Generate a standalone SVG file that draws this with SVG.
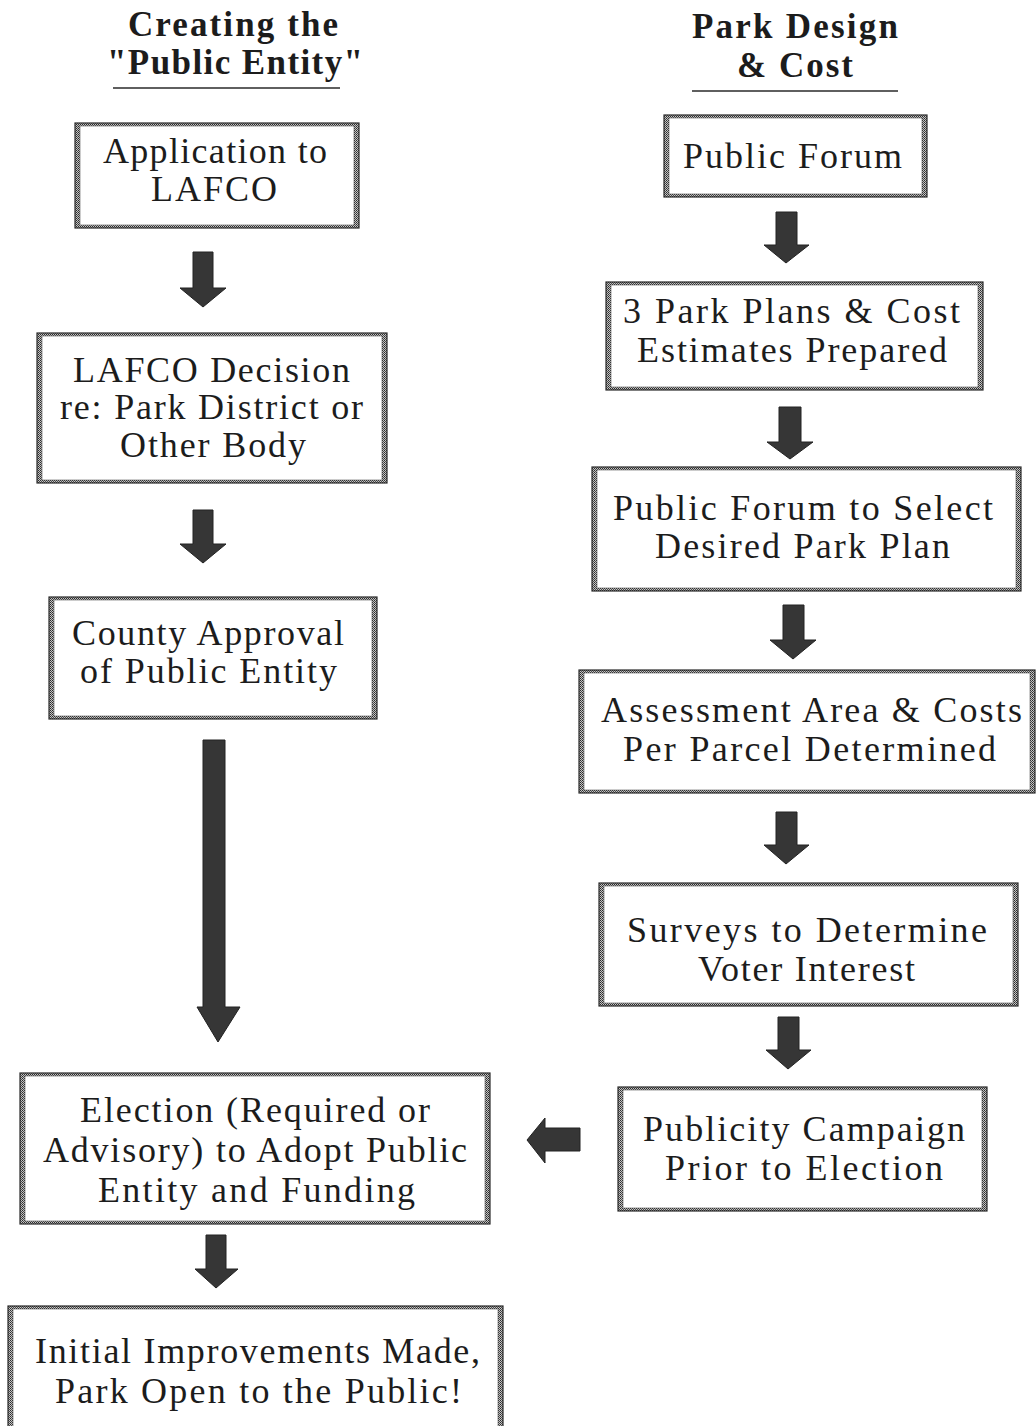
<svg xmlns="http://www.w3.org/2000/svg" width="1036" height="1426" viewBox="0 0 1036 1426">
<defs>
<pattern id="dither" width="2" height="2" patternUnits="userSpaceOnUse">
<rect width="2" height="2" fill="#c4c4c4"/>
<rect x="0" y="0" width="1" height="1" fill="#2a2a2a"/>
<rect x="1" y="1" width="1" height="1" fill="#4a4a4a"/>
</pattern>
<style>
.band{fill:url(#dither);stroke:#2a2a2a;stroke-width:1.2}
.inner{fill:#fff;stroke:#555;stroke-width:0.6}
.t{font-family:"Liberation Serif","Times New Roman",serif;font-size:36px;fill:#1c1c1c}
.h{font-family:"Liberation Serif","Times New Roman",serif;font-size:35px;font-weight:bold;fill:#1c1c1c}
.ul{stroke:#2a2a2a;stroke-width:1.5}
.arrow{fill:#363636;stroke:#222;stroke-width:1}
</style>
</defs>
<rect width="1036" height="1426" fill="#fff"/>

<g id="header-left">
<text class="h" x="128" y="36" textLength="210" lengthAdjust="spacing">Creating the</text>
<text class="h" x="107" y="74" textLength="256" lengthAdjust="spacing">"Public Entity"</text>
<line class="ul" x1="113" y1="88" x2="340" y2="88"/>
</g>
<g id="header-right">
<text class="h" x="692" y="38" textLength="206" lengthAdjust="spacing">Park Design</text>
<text class="h" x="737" y="77" textLength="116" lengthAdjust="spacing">&amp; Cost</text>
<line class="ul" x1="692" y1="91" x2="898" y2="91"/>
</g>

<g id="n-application">
<rect class="band" x="75" y="123" width="284" height="105"/>
<rect class="inner" x="80" y="126" width="274" height="99"/>
<text class="t" x="103" y="163" textLength="224" lengthAdjust="spacing">Application to</text>
<text class="t" x="151" y="201" textLength="126" lengthAdjust="spacing">LAFCO</text>
</g>
<g id="n-lafco-decision">
<rect class="band" x="37" y="333" width="350" height="150"/>
<rect class="inner" x="42" y="336" width="340" height="144"/>
<text class="t" x="73" y="382" textLength="277" lengthAdjust="spacing">LAFCO Decision</text>
<text class="t" x="60" y="419" textLength="303" lengthAdjust="spacing">re: Park District or</text>
<text class="t" x="120" y="457" textLength="186" lengthAdjust="spacing">Other Body</text>
</g>
<g id="n-county">
<rect class="band" x="49" y="597" width="328" height="122"/>
<rect class="inner" x="54" y="600" width="318" height="116"/>
<text class="t" x="72" y="645" textLength="272" lengthAdjust="spacing">County Approval</text>
<text class="t" x="80" y="683" textLength="257" lengthAdjust="spacing">of Public Entity</text>
</g>
<g id="n-election">
<rect class="band" x="20" y="1073" width="470" height="151"/>
<rect class="inner" x="25" y="1076" width="460" height="145"/>
<text class="t" x="80" y="1122" textLength="350" lengthAdjust="spacing">Election (Required or</text>
<text class="t" x="43" y="1162" textLength="424" lengthAdjust="spacing">Advisory) to Adopt Public</text>
<text class="t" x="98" y="1202" textLength="317" lengthAdjust="spacing">Entity and Funding</text>
</g>
<g id="n-initial">
<rect class="band" x="8" y="1306" width="495" height="130"/>
<rect class="inner" x="13" y="1309" width="485" height="130"/>
<text class="t" x="35" y="1363" textLength="445" lengthAdjust="spacing">Initial Improvements Made,</text>
<text class="t" x="55" y="1403" textLength="407" lengthAdjust="spacing">Park Open to the Public!</text>
</g>

<g id="n-public-forum">
<rect class="band" x="664" y="115" width="263" height="82"/>
<rect class="inner" x="669" y="118" width="253" height="76"/>
<text class="t" x="683" y="168" textLength="219" lengthAdjust="spacing">Public Forum</text>
</g>
<g id="n-park-plans">
<rect class="band" x="606" y="282" width="377" height="108"/>
<rect class="inner" x="611" y="285" width="367" height="102"/>
<text class="t" x="623" y="323" textLength="337" lengthAdjust="spacing">3 Park Plans &amp; Cost</text>
<text class="t" x="637" y="362" textLength="310" lengthAdjust="spacing">Estimates Prepared</text>
</g>
<g id="n-select-plan">
<rect class="band" x="592" y="467" width="429" height="124"/>
<rect class="inner" x="597" y="470" width="419" height="118"/>
<text class="t" x="613" y="520" textLength="380" lengthAdjust="spacing">Public Forum to Select</text>
<text class="t" x="655" y="558" textLength="295" lengthAdjust="spacing">Desired Park Plan</text>
</g>
<g id="n-assessment">
<rect class="band" x="579" y="670" width="456" height="123"/>
<rect class="inner" x="584" y="673" width="446" height="117"/>
<text class="t" x="601" y="722" textLength="421" lengthAdjust="spacing">Assessment Area &amp; Costs</text>
<text class="t" x="623" y="761" textLength="373" lengthAdjust="spacing">Per Parcel Determined</text>
</g>
<g id="n-surveys">
<rect class="band" x="599" y="883" width="419" height="123"/>
<rect class="inner" x="604" y="886" width="409" height="117"/>
<text class="t" x="627" y="942" textLength="360" lengthAdjust="spacing">Surveys to Determine</text>
<text class="t" x="698" y="981" textLength="217" lengthAdjust="spacing">Voter Interest</text>
</g>
<g id="n-publicity">
<rect class="band" x="618" y="1087" width="369" height="124"/>
<rect class="inner" x="623" y="1090" width="359" height="118"/>
<text class="t" x="643" y="1141" textLength="322" lengthAdjust="spacing">Publicity Campaign</text>
<text class="t" x="665" y="1180" textLength="278" lengthAdjust="spacing">Prior to Election</text>
</g>

<g id="connectors">
<path class="arrow" d="M193,252 H213 V288 H226 L203,307 L180,288 H193 Z"/>
<path class="arrow" d="M193,510 H213 V544 H226 L203,563 L180,544 H193 Z"/>
<path class="arrow" d="M203,740 H225 V1007 H240 L218,1042 L197,1007 H203 Z"/>
<path class="arrow" d="M206,1235 H226 V1269 H238 L216,1288 L195,1269 H206 Z"/>
<path class="arrow" d="M776,212 H797 V245 H809 L786,263 L764,245 H776 Z"/>
<path class="arrow" d="M779,407 H801 V442 H813 L790,459 L767,442 H779 Z"/>
<path class="arrow" d="M783,605 H804 V640 H816 L793,659 L770,640 H783 Z"/>
<path class="arrow" d="M776,812 H797 V845 H809 L786,864 L764,845 H776 Z"/>
<path class="arrow" d="M778,1017 H799 V1050 H811 L788,1069 L766,1050 H778 Z"/>
<path class="arrow" d="M580,1128 V1151 H545 V1163 L527,1140 L545,1118 V1128 Z"/>
</g>
</svg>
